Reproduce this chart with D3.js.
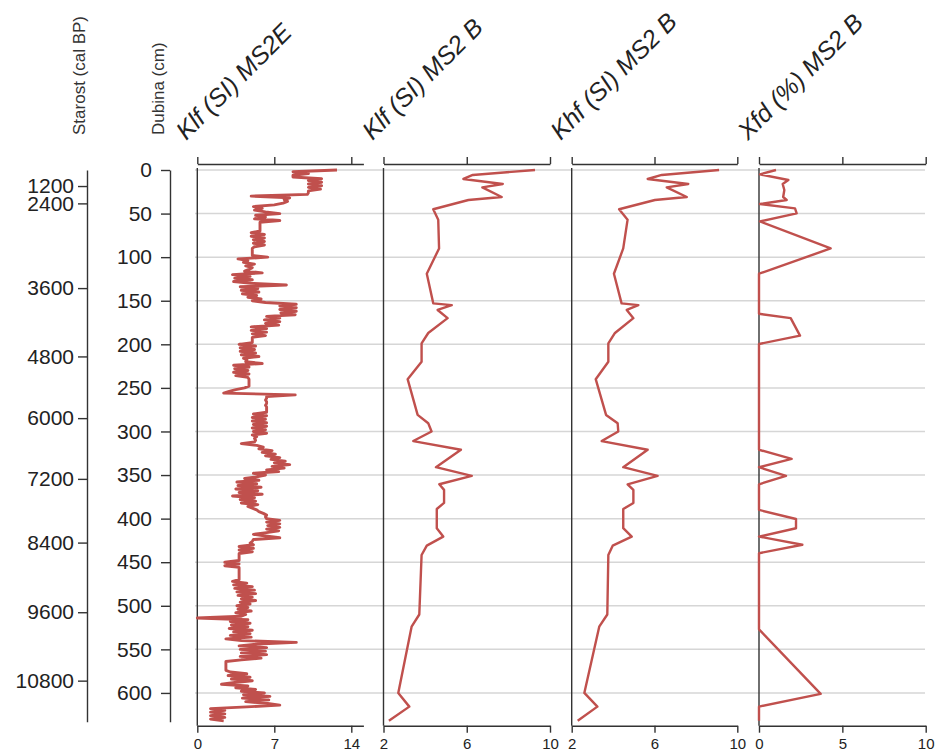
<!DOCTYPE html>
<html><head><meta charset="utf-8">
<script src="https://cdn.jsdelivr.net/npm/d3@7"></script>
<style>
body{margin:0;background:#fff;}
svg{display:block;font-family:"Liberation Sans",Arial,sans-serif;}
</style></head><body>
<svg id="c" width="935" height="753"></svg>
<script>
// ---------- DATA ----------
const depthTicks = [0,50,100,150,200,250,300,350,400,450,500,550,600];
const ageLabels = ["1200","2400","3600","4800","6000","7200","8400","9600","10800"];
const ageDepths = [18.4,38.3,135.5,213.9,284.7,354.4,427.5,507.4,585.9];

const panelTitles = ["Klf (SI) MS2E","Klf (SI) MS2 B","Khf (SI) MS2 B","Xfd (%) MS2 B"];
const panelTicks = [[0,7,14],[2,6,10],[2,6,10],[0,5,10]];

// Klf (SI) MS2E : sampled every 2 cm from 0 cm
const ms2eStep = 2;
const klfMS2E = [
12.7,8.7,10.1,8.7,8.7,11.3,10.1,11.3,10.1,11.3,
10.1,11.2,10.1,10.1,10.0,4.9,8.4,7.9,8.2,7.8,
7.0,5.1,5.9,5.2,6.2,7.5,5.3,6.2,5.2,7.5,
5.7,5.7,5.7,5.7,5.7,5.7,4.9,6.1,4.9,6.1,
5.1,6.1,5.1,6.1,5.2,5.0,5.0,5.0,5.0,5.0,
6.4,3.7,4.6,4.2,5.2,4.4,5.0,4.7,4.3,5.9,
3.2,4.8,3.4,5.0,3.3,4.9,8.1,3.9,5.5,4.0,
5.6,4.1,5.4,4.6,5.8,5.0,6.2,9.0,7.5,9.0,
7.5,9.0,7.6,8.9,6.3,7.5,6.1,7.5,6.2,7.4,
4.9,6.3,4.9,6.3,5.0,6.2,5.0,5.0,5.0,5.0,
3.8,5.3,3.9,5.2,3.9,5.3,4.0,5.6,4.2,4.5,
4.4,5.9,3.3,4.7,3.4,4.6,3.3,4.7,3.5,4.6,
4.7,4.7,4.7,4.7,4.7,4.3,3.5,2.9,2.4,8.9,
6.3,6.3,6.2,6.3,6.3,6.2,6.3,6.3,6.3,6.3,
5.1,6.3,5.0,6.2,5.0,6.3,5.1,6.3,5.0,6.2,
5.1,6.3,5.0,5.4,5.2,5.3,5.2,4.0,5.4,6.0,
5.6,6.8,5.9,7.1,6.2,7.5,6.7,8.0,7.0,8.4,
6.8,7.9,6.3,7.4,5.1,6.2,5.4,4.3,5.6,3.6,
5.4,3.7,5.8,3.5,5.5,3.8,5.9,3.2,5.2,3.9,
5.3,4.0,5.5,4.6,5.0,5.4,5.6,6.0,6.3,6.2,
6.3,7.5,6.3,7.5,6.4,7.5,6.3,7.4,6.3,5.1,
6.2,7.5,5.1,5.0,4.8,5.1,3.8,5.1,3.8,5.0,
3.8,3.8,3.8,3.8,3.8,2.5,3.8,2.5,3.8,3.8,
3.8,3.8,3.8,3.8,3.8,3.8,3.2,4.5,3.3,5.0,
3.4,5.2,3.6,5.3,3.7,5.0,4.0,5.3,3.9,4.8,
3.6,4.6,3.7,4.9,3.5,4.4,4.0,0.0,4.6,3.0,
4.8,3.1,4.6,2.9,5.0,3.3,4.8,3.0,4.9,2.6,
4.0,9.0,5.5,3.8,6.3,3.9,6.2,4.0,6.3,3.9,
5.8,4.0,2.6,2.6,2.6,2.6,2.6,2.6,3.0,4.5,
2.8,4.8,3.1,5.0,3.4,2.2,4.6,3.5,5.3,4.0,
6.1,4.2,6.6,4.1,6.5,4.4,6.4,7.5,4.5,1.2,
2.5,1.2,2.5,1.2,2.5,1.2,2.4
];

// MS2 B samples
const depthB = [0,5.7,10.3,16,20,31,34.4,45,57,90,119,153,155,160.6,170,187,199,220,240,281,290.6,300,311,321,341,351,360.6,367,382,389,411,420.6,431,441.7,510,524,600,615.7,632];
const klfB   = [9.28,6.29,5.84,7.73,6.75,7.68,6.08,4.39,4.63,4.67,4.08,4.39,5.28,4.6,5.08,4.15,3.83,3.83,3.16,3.64,4.15,4.31,3.43,5.72,4.52,6.24,4.68,4.91,4.91,4.56,4.56,4.87,4.08,3.83,3.72,3.35,2.71,3.24,2.26];
const khfB   = [9.12,6.35,5.67,7.63,6.59,7.56,6.02,4.29,4.7,4.49,4.04,4.41,5.22,4.66,4.98,4.09,3.77,3.77,3.16,3.66,4.22,4.25,3.45,5.67,4.49,6.15,4.7,4.98,4.98,4.49,4.49,4.9,3.98,3.77,3.72,3.33,2.61,3.24,2.29];

const depthXfd = [0,5,11.5,16,23,31,34.4,39,44,49.7,59,90,119,165,170,190,199.6,321,331.5,341,351,360.6,390,400.4,411,420.6,430,439.7,527,601,615.7,632];
const xfdB     = [1.02,0.06,1.76,1.42,1.52,1.45,1.66,0.06,2.16,2.26,0.06,4.3,0,0,1.9,2.46,0,0,1.96,0,1.62,0,0,2.22,2.22,0,2.6,0,0,3.7,0,0];

// ---------- DRAW ----------
const svg = d3.select("#c");
const red = "#c0504d";
const y = d3.scaleLinear().domain([0,633]).range([170,721.7]);

// gridlines
svg.append("g").selectAll("line").data(depthTicks).join("line")
  .attr("x1",195).attr("x2",925).attr("y1",d=>y(d)).attr("y2",d=>y(d))
  .attr("stroke","#d6d6d6").attr("stroke-width",1.5);

// age axis
const ageAxis = svg.append("g").attr("transform","translate(87,0)")
  .call(d3.axisLeft(y).tickValues(ageDepths).tickFormat((d,i)=>ageLabels[i]).tickSize(9).tickSizeOuter(0).tickPadding(4));
// depth axis
const depAxis = svg.append("g").attr("transform","translate(170,0)")
  .call(d3.axisLeft(y).tickValues(depthTicks).tickSize(9).tickSizeOuter(0).tickPadding(9));
[ageAxis,depAxis].forEach(g=>{
  g.selectAll("text").attr("font-size",21).attr("fill","#222").attr("font-family","Liberation Sans, Arial, sans-serif");
  g.selectAll("path,line").attr("stroke","#333").attr("stroke-width",1.4);
});

// side titles
svg.append("text").attr("transform","translate(85,135) rotate(-90)")
  .attr("font-size",17).attr("fill","#333").text("Starost (cal BP)");
svg.append("text").attr("transform","translate(164,135) rotate(-90)")
  .attr("font-size",17).attr("fill","#333").text("Dubina (cm)");

// panels
const panels = [
  {dom:[0,15.1], rng:[197.3,363.4], depth:klfMS2E.map((v,i)=>i*ms2eStep), vals:klfMS2E, w:2.9},
  {dom:[2,10],   rng:[383.5,550],   depth:depthB,   vals:klfB, w:2.4},
  {dom:[2,10],   rng:[571.7,737.3], depth:depthB,   vals:khfB, w:2.4},
  {dom:[0,10],   rng:[759,925.7],   depth:depthXfd, vals:xfdB, w:2.4}
];
panels.forEach((p,k)=>{
  const x = d3.scaleLinear().domain(p.dom).range(p.rng);
  svg.append("line").attr("x1",p.rng[0]).attr("x2",p.rng[0]).attr("y1",168).attr("y2",725.7)
    .attr("stroke","#333").attr("stroke-width",1.4);
  const top = svg.append("g").attr("transform","translate(0,164)")
    .call(d3.axisTop(x).tickValues(panelTicks[k]).tickFormat("").tickSize(7).tickSizeOuter(0));
  const bot = svg.append("g").attr("transform","translate(0,725.7)")
    .call(d3.axisBottom(x).tickValues(panelTicks[k]).tickSize(7).tickSizeOuter(0).tickPadding(6));
  [top,bot].forEach(g=>g.selectAll("path,line").attr("stroke","#333").attr("stroke-width",1.4));
  bot.selectAll("text").attr("font-size",15).attr("fill","#222").attr("font-family","Liberation Sans, Arial, sans-serif");
  const pts = p.vals.map((v,i)=>[v,p.depth[i]]);
  svg.append("path").datum(pts)
    .attr("d",d3.line().x(d=>x(d[0])).y(d=>y(d[1])))
    .attr("fill","none").attr("stroke",red).attr("stroke-width",p.w).attr("stroke-linejoin","round");
  svg.append("text").attr("transform",`translate(${p.rng[0]-11},141) rotate(-45)`)
    .attr("font-size",25).attr("font-style","italic").attr("fill","#222").text(panelTitles[k]);
});
</script></body></html>
